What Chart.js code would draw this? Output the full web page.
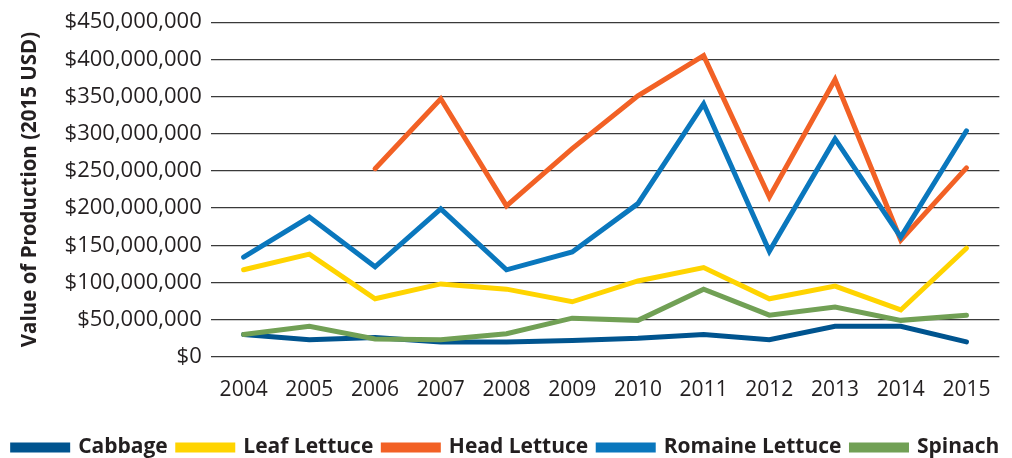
<!DOCTYPE html>
<html>
<head>
<meta charset="utf-8">
<script src="https://cdn.jsdelivr.net/npm/chart.js@4"></script>
<style>
html,body{margin:0;padding:0;background:#fff;}
#wrap{width:1012px;height:458px;}
</style>
</head>
<body>
<div id="wrap"><canvas id="c" width="1012" height="458"></canvas></div>
<script>
const years = ['2004','2005','2006','2007','2008','2009','2010','2011','2012','2013','2014','2015'];
const cabbage = [30e6, 23e6, 26e6, 20e6, 20e6, 22e6, 25e6, 30e6, 23e6, 41e6, 41e6, 20e6];
const leafLettuce = [117e6, 138e6, 78e6, 98e6, 91e6, 74e6, 102e6, 120e6, 78e6, 95e6, 63e6, 146e6];
const headLettuce = [null, null, 253e6, 347e6, 203e6, 280e6, 351e6, 405e6, 215e6, 373e6, 157e6, 254e6];
const romaineLettuce = [134e6, 188e6, 121e6, 199e6, 117e6, 141e6, 206e6, 340e6, 142e6, 293e6, 161e6, 304e6];
const spinach = [30e6, 41e6, 24e6, 23e6, 31e6, 52e6, 49e6, 91e6, 56e6, 67e6, 49e6, 56e6];
const yTicks = [0, 50e6, 100e6, 150e6, 200e6, 250e6, 300e6, 350e6, 400e6, 450e6];

const txt = '#231f20';
function ds(label, data, color, order) {
  return {label, data, borderColor: color, backgroundColor: color, borderWidth: 5,
    pointRadius: 0, pointHoverRadius: 0, tension: 0, spanGaps: false,
    borderCapStyle: 'round', borderJoinStyle: 'miter', fill: false, order, yAxisID: 'y'};
}
new Chart(document.getElementById('c'), {
  type: 'line',
  data: {
    labels: years,
    datasets: [
      ds('Cabbage', cabbage, '#00548f', 5),
      ds('Leaf Lettuce', leafLettuce, '#ffd400', 4),
      ds('Head Lettuce', headLettuce, '#f26125', 3),
      ds('Romaine Lettuce', romaineLettuce, '#0a77bd', 2),
      ds('Spinach', spinach, '#71a055', 1)
    ]
  },
  options: {
    responsive: false,
    animation: false,
    layout: {padding: {left: 0, right: 0, top: 15, bottom: -10}},
    plugins: {
      tooltip: {enabled: false},
      legend: {
        position: 'bottom',
        align: 'center',
        labels: {
          sort: (a, b) => a.datasetIndex - b.datasetIndex,
          boxWidth: 55, boxHeight: 5, padding: 10,
          color: txt,
          font: {family: 'Open Sans', size: 21, weight: 'bold'}
        }
      }
    },
    scales: {
      x: {
        offset: true,
        grid: {display: false, drawTicks: false},
        border: {display: false},
        ticks: {color: txt, font: {family: 'Open Sans', size: 21}, padding: 21, maxRotation: 0},
        afterFit: (s) => { s.height += 3; }
      },
      y: {
        min: 0, max: 450e6,
        afterBuildTicks: (axis) => { axis.ticks = yTicks.map(v => ({value: v})); },
        grid: {color: '#3a3a3a', lineWidth: 1.3, drawTicks: false},
        border: {display: false},
        ticks: {color: txt, font: {family: 'Open Sans', size: 22}, padding: 9,
          callback: (v) => '$' + Number(v).toLocaleString('en-US')},
        title: {display: true, text: 'Value of Production (2015 USD)', color: txt,
          font: {family: 'Open Sans', size: 20.5, weight: 'bold'}, padding: {top: 18, bottom: 13}}
      },
      yr: {
        position: 'right',
        display: true,
        grid: {display: false, drawTicks: false},
        border: {display: false},
        ticks: {display: false},
        afterFit: (s) => { s.width = 12; }
      }
    }
  }
});
</script>
</body>
</html>
